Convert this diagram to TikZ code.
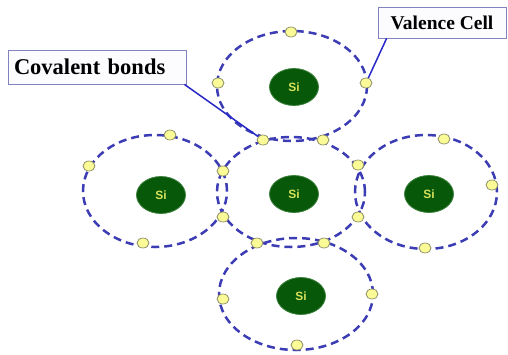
\documentclass[tikz,border=0pt]{standalone}
\usepackage{fontspec}
\setmainfont{Liberation Serif}
\setsansfont{Liberation Sans}
\usetikzlibrary{shapes.geometric}
\definecolor{cellblue}{RGB}{60,60,180}
\definecolor{sigreen}{RGB}{8,88,10}
\definecolor{siedge}{RGB}{60,130,60}
\definecolor{sitext}{RGB}{215,225,90}
\definecolor{elfill}{RGB}{250,250,150}
\definecolor{eledge}{RGB}{140,140,100}
\definecolor{pointer}{RGB}{40,40,200}
\definecolor{boxedge}{RGB}{130,130,190}
\definecolor{boxfill}{RGB}{252,252,255}

\begin{document}
\begin{tikzpicture}[x=1pt,y=-1pt,
  cell/.style n args={2}{ellipse, draw=cellblue, line width=2.5pt,
    dash pattern=on 8pt off 5pt, inner sep=0pt, outer sep=0pt,
    minimum width=#1, minimum height=#2},
  atom/.style={ellipse, fill=sigreen, draw=siedge, line width=0.8pt,
    minimum width=49pt, minimum height=37pt, inner sep=0pt,
    text=sitext, font=\sffamily\bfseries\fontsize{12}{12}\selectfont},
  electron/.style={ellipse, fill=elfill, draw=eledge, line width=0.7pt,
    minimum width=12pt, minimum height=10pt, inner sep=0pt},
  tag/.style={draw=boxedge, fill=boxfill, line width=0.8pt, inner sep=0pt,
    text=black},
  pointer/.style={draw=pointer, line width=1.5pt}]

\useasboundingbox (0,0) rectangle (508,354);

% valence cells (dashed outlines)
\node[cell={150pt}{110pt}] (ctop)    at (292,86)  {};
\node[cell={144pt}{112pt}] (cleft)   at (155,191) {};
\node[cell={148pt}{110pt}] (ccentre) at (291,192) {};
\node[cell={142pt}{114pt}] (cright)  at (426,192) {};
\node[cell={154pt}{112pt}] (cbottom) at (296,294) {};

% silicon cores
\node[atom] (sitop)    at (294,87)  {Si};
\node[atom] (sileft)   at (161,195) {Si};
\node[atom] (sicentre) at (294,194) {Si};
\node[atom] (siright)  at (429,194) {Si};
\node[atom] (sibottom) at (301,296) {Si};

% electrons of the top cell
\node[electron] (t1) at (291,32)  {};
\node[electron] (t2) at (218,83)  {};
\node[electron] (t3) at (366,83)  {};
% electrons of the left cell
\node[electron] (l1) at (170,135) {};
\node[electron] (l2) at (89,166)  {};
\node[electron] (l3) at (143,243) {};
% electrons of the right cell
\node[electron] (r1) at (444,139) {};
\node[electron] (r2) at (492,185) {};
\node[electron] (r3) at (425,248) {};
% electrons of the bottom cell
\node[electron] (b1) at (223,299) {};
\node[electron] (b2) at (372,294) {};
\node[electron] (b3) at (297,345) {};
% shared electrons (covalent bonds)
\node[electron] (s1) at (263,140) {};
\node[electron] (s2) at (323,140) {};
\node[electron] (s3) at (223,171) {};
\node[electron] (s4) at (223,217) {};
\node[electron] (s5) at (358,165) {};
\node[electron] (s6) at (358,217) {};
\node[electron] (s7) at (257,243) {};
\node[electron] (s8) at (324,243) {};

% labels
\node[tag, minimum width=178pt, minimum height=34pt, text width=166pt,
  inner xsep=6pt, align=left,
  font=\bfseries\fontsize{22.5}{22.5}\selectfont] (covalent) at (97,67) {Covalent bonds};
\node[tag, minimum width=128pt, minimum height=31pt,
  font=\bfseries\fontsize{19.5}{19.5}\selectfont] (valence) at (442,22.5) {Valence Cell};

% pointers
\draw[pointer] ([xshift=-2pt]covalent.south east) -- (s1);
\draw[pointer] ([xshift=9pt]valence.south west) -- (t3);
\end{tikzpicture}
\end{document}
